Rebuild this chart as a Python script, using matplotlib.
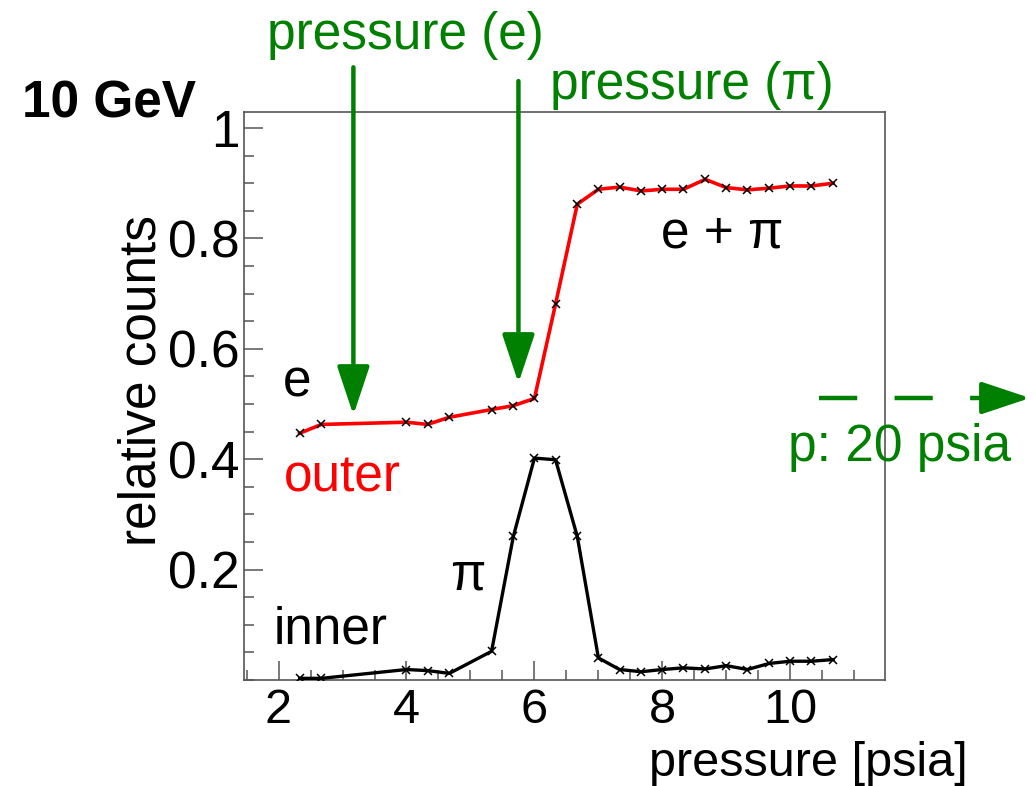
import numpy as np
import matplotlib
matplotlib.use("Agg")
import matplotlib.pyplot as plt
from matplotlib.ticker import MultipleLocator, FixedLocator
from matplotlib.patches import FancyArrowPatch
from matplotlib.lines import Line2D

plt.rcParams['font.family'] = ['Liberation Sans', 'DejaVu Sans']

# pressure scan, 10 GeV beam
pressure = [2.33, 2.67, 4.0, 4.33, 4.67, 5.33, 5.67, 6.0, 6.33, 6.67, 7.0,
            7.33, 7.67, 8.0, 8.33, 8.67, 9.0, 9.33, 9.67, 10.0, 10.33, 10.67]
outer = [0.447, 0.463, 0.467, 0.463, 0.476, 0.490, 0.497, 0.510, 0.681, 0.862, 0.889,
         0.893, 0.886, 0.889, 0.889, 0.907, 0.892, 0.888, 0.891, 0.895, 0.895, 0.900]
inner = [0.003, 0.003, 0.019, 0.017, 0.012, 0.052, 0.260, 0.402, 0.399, 0.260, 0.040,
         0.019, 0.015, 0.019, 0.022, 0.020, 0.026, 0.019, 0.030, 0.034, 0.034, 0.037]

p_electron = 3.17   # threshold pressure for electrons
p_pion = 5.75       # threshold pressure for pions

W, H = 1035, 786
green = '#008000'
fs = 37

fig = plt.figure(figsize=(W / 100, H / 100), dpi=100)
ax = fig.add_axes([244 / W, 1 - 680 / H, (885 - 244) / W, (680 - 112) / H])

ax.plot(pressure, outer, color='red', lw=2.6, zorder=3)
ax.plot(pressure, outer, ls='none', marker='x', ms=6, mew=1.1, color='black', zorder=4)
ax.plot(pressure, inner, color='black', lw=2.4, zorder=3)
ax.plot(pressure, inner, ls='none', marker='x', ms=6, mew=1.1, color='black', zorder=4)

ax.set_xlim(1.46, 11.48)
ax.set_ylim(0, 1.029)
ax.xaxis.set_major_locator(MultipleLocator(2))
ax.xaxis.set_minor_locator(MultipleLocator(0.5))
ax.yaxis.set_major_locator(FixedLocator([0.2, 0.4, 0.6, 0.8, 1.0]))
ax.yaxis.set_minor_locator(MultipleLocator(0.05))
ax.set_yticklabels(['0.2', '0.4', '0.6', '0.8', '1'])
ax.set_xticks([2, 4, 6, 8, 10])
ax.set_xticklabels(['2', '4', '6', '8', '10'])

for s in ax.spines.values():
    s.set_color('#555555')
    s.set_linewidth(1.2)
ax.tick_params(which='both', direction='in', color='#555555', width=1.1,
               top=False, right=False, labelsize=fs)
ax.tick_params(which='major', length=14)
ax.tick_params(which='minor', length=7)
ax.tick_params(axis='y', pad=3)
ax.tick_params(axis='x', pad=6, labelsize=35)


def ftext(x, y, s, **kw):
    fig.text(x / W, 1 - y / H, s, ha='center', va='center', fontsize=fs, **kw)


fig.text(22 / W, 1 - 104 / H, '10 GeV', ha='left', va='center', fontsize=fs,
         fontweight='bold')
fig.text(142 / W, 1 - 380 / H, 'relative counts', ha='center', va='center',
         fontsize=fs, rotation=90)
fig.text(968 / W, 1 - 763 / H, 'pressure [psia]', ha='right', va='center', fontsize=35)

ftext(405, 36, 'pressure (e)', color=green)
ftext(692, 86, 'pressure (π)', color=green)
ftext(722, 234, 'e + π')
ftext(297, 383, 'e')
ftext(342, 478, 'outer', color='red')
ftext(468, 576, 'π')
ftext(331, 630, 'inner')
ftext(900, 447, 'p: 20 psia', color=green)

# threshold arrows
arrow_kw = dict(arrowstyle='-|>,head_length=3.0,head_width=1.0', color=green,
                lw=3.2, mutation_scale=10, shrinkA=0, shrinkB=0)
ax.annotate('', xy=(p_electron, 0.48), xytext=(p_electron, 1.11),
            arrowprops=arrow_kw, annotation_clip=False)
ax.annotate('', xy=(p_pion, 0.538), xytext=(p_pion, 1.085),
            arrowprops=arrow_kw, annotation_clip=False)

# dashed arrow pointing off to the right
fig.add_artist(Line2D([819 / W, 990 / W], [1 - 398 / H, 1 - 398 / H],
                      transform=fig.transFigure, color=green, lw=3.2,
                      dashes=(8.6, 8.4)))
fig.add_artist(FancyArrowPatch((985 / W, 1 - 398 / H), (1030 / W, 1 - 398 / H),
                               transform=fig.transFigure,
                               arrowstyle='-|>,head_length=3.0,head_width=1.0',
                               mutation_scale=10, color=green, lw=3.2,
                               shrinkA=0, shrinkB=0))

fig.savefig('out.png', dpi=100)
